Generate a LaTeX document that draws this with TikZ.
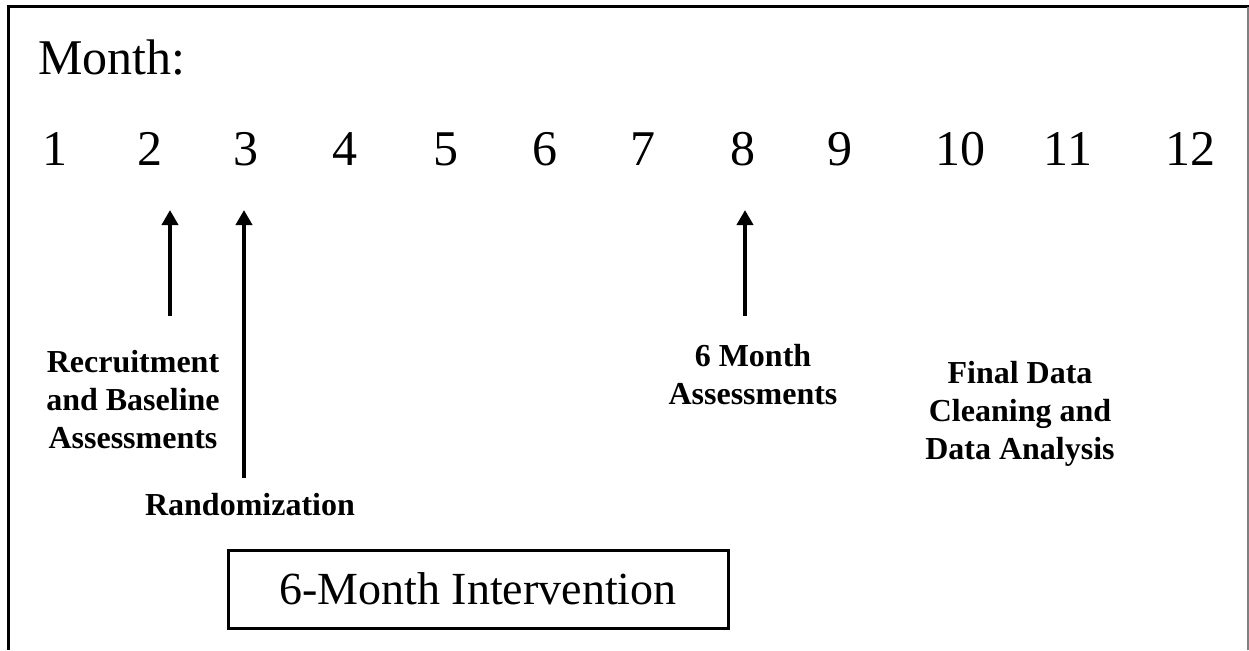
\documentclass[tikz,border=0pt]{standalone}
\usepackage{fontspec}
\setmainfont{Liberation Serif}
\usetikzlibrary{arrows.meta}
\tikzset{
  month/.style={anchor=base, inner sep=0pt, font=\fontsize{50}{50}\selectfont},
  lbl/.style={align=center, inner sep=0pt, font=\fontsize{32}{38}\selectfont\bfseries},
  uparrow/.style={line width=4pt, -{Triangle[width=16pt,length=15pt]}},
  framebox/.style={draw, line width=3pt, minimum width=500pt, minimum height=78pt, inner sep=0pt, font=\fontsize{46}{46}\selectfont}
}
\begin{document}
\begin{tikzpicture}[x=1pt,y=-1pt]
\useasboundingbox (0,0) rectangle (1249,650);
% frame
\draw[line width=3pt] (8,650) -- (8,7) -- (1249,7);
\draw[gray, line width=2pt] (1247.5,7) -- (1247.5,650);
% title
\node[anchor=base west, inner sep=0pt, font=\fontsize{50}{50}\selectfont] (title) at (38,75) {Month:};
% month numbers
\node[month] (m1) at (55,165) {1};
\node[month] (m2) at (150,165) {2};
\node[month] (m3) at (246,165) {3};
\node[month] (m4) at (345,165) {4};
\node[month] (m5) at (446,165) {5};
\node[month] (m6) at (545,165) {6};
\node[month] (m7) at (643,165) {7};
\node[month] (m8) at (743,165) {8};
\node[month] (m9) at (840,165) {9};
\node[month] (m10) at (960,165) {10};
\node[month] (m11) at (1068,165) {11};
\node[month] (m12) at (1190,165) {12};
% labels
\node[lbl] (rec) at (133,400) {Recruitment\\and Baseline\\Assessments};
\node[lbl] (rand) at (250,505) {Randomization};
\node[lbl] (six) at (753,375) {6 Month\\Assessments};
\node[lbl] (fin) at (1020,414) {Final Data\\Cleaning and\\Data Analysis};
% box
\node[framebox] (box) at (478,589) {6-Month Intervention};
% arrows
\coordinate (a1s) at (170,316);
\coordinate (a1e) at (170,210);
\coordinate (a2s) at (244,478);
\coordinate (a2e) at (244,210);
\coordinate (a3s) at (745,316);
\coordinate (a3e) at (745,210);
\draw[uparrow] (a1s) -- (a1e);
\draw[uparrow] (a2s) -- (a2e);
\draw[uparrow] (a3s) -- (a3e);
\end{tikzpicture}
\end{document}
